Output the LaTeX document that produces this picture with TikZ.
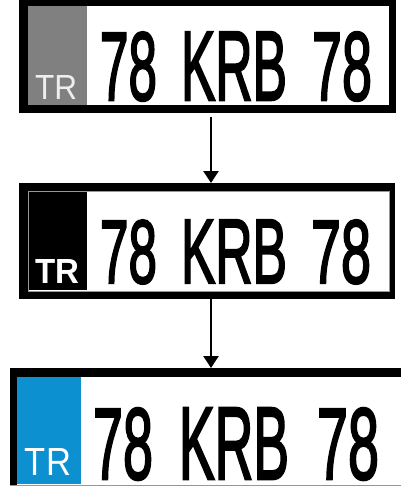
\documentclass[tikz,border=0pt]{standalone}
\usepackage{fontspec}
\setmainfont{Liberation Sans}
\newfontfamily\platefont{Liberation Sans}[FakeBold=2.5]
\usetikzlibrary{arrows.meta}
\definecolor{plategray}{RGB}{128,128,128}
\definecolor{plateblue}{RGB}{12,144,208}
\definecolor{thingray}{RGB}{150,150,150}
\definecolor{trwhite}{RGB}{238,238,238}
\newcommand{\platetxt}[3]{\resizebox{#1pt}{#2pt}{#3}}
\begin{document}
\begin{tikzpicture}[x=1pt,y=-1pt,
  frame/.style={draw=none,fill=black,inner sep=0pt,outer sep=0pt,rectangle},
  glyphs/.style={anchor=north west,inner sep=0pt,outer sep=0pt},
  arr/.style={line width=2.4pt,-{Triangle[width=15pt,length=12pt]}}]
\useasboundingbox (0,0) rectangle (400,490);
\fill[white] (0,0) rectangle (400,490);
% ---------- plate 1 ----------
\node[frame,minimum width=377pt,minimum height=113pt] (p1) at (207.5,56.5) {};
\fill[white] (28,6) rectangle (389,105);
\fill[plategray] (28,6) rectangle (87,105);
\node[glyphs] (p1tr) at (35,75) {\platetxt{42}{24}{\color{trwhite}TR}};
\node[glyphs] (p1a) at (100,32) {\platetxt{57}{68}{\platefont 78}};
\node[glyphs] (p1b) at (181,32) {\platetxt{106}{68}{\platefont KRB}};
\node[glyphs] (p1c) at (312,32) {\platetxt{60}{68}{\platefont 78}};
% ---------- plate 2 ----------
\node[frame,minimum width=376pt,minimum height=116pt] (p2) at (207,241) {};
\fill[white] (28,191) rectangle (389,291);
\draw[thingray,line width=0.7pt] (28,191) rectangle (389,291);
\fill[black] (28.6,191.6) rectangle (87,290.4);
\node[glyphs] (p2tr) at (35,259) {\platetxt{44}{24}{\color{white}\bfseries TR}};
\node[glyphs] (p2a) at (100,220) {\platetxt{57}{63}{\platefont 78}};
\node[glyphs] (p2b) at (181,220) {\platetxt{106}{63}{\platefont KRB}};
\node[glyphs] (p2c) at (311,220) {\platetxt{60}{63}{\platefont 78}};
% ---------- plate 3 ----------
\node[draw=thingray,line width=0.6pt,inner sep=0pt,outer sep=0pt,minimum width=392pt,minimum height=117pt] (p3) at (206,426.5) {};
\fill[black] (10,368) rectangle (402,377);
\fill[black] (10,368) rectangle (17,485);
\fill[plateblue] (17,377) rectangle (81,484);
\node[glyphs] (p3tr) at (25,448) {\platetxt{46}{27}{\color{white}TR}};
\node[glyphs] (p3a) at (93,408) {\platetxt{60}{71}{\platefont 78}};
\node[glyphs] (p3b) at (179,408) {\platetxt{110}{71}{\platefont KRB}};
\node[glyphs] (p3c) at (317,408) {\platetxt{62}{71}{\platefont 78}};
% ---------- arrows ----------
\coordinate (ax) at (211,0);
\draw[arr,shorten <=4pt] (p1.south -| ax) -- (p2.north -| ax);
\draw[arr] (p2.south -| ax) -- (p3.north -| ax);
\end{tikzpicture}
\end{document}
